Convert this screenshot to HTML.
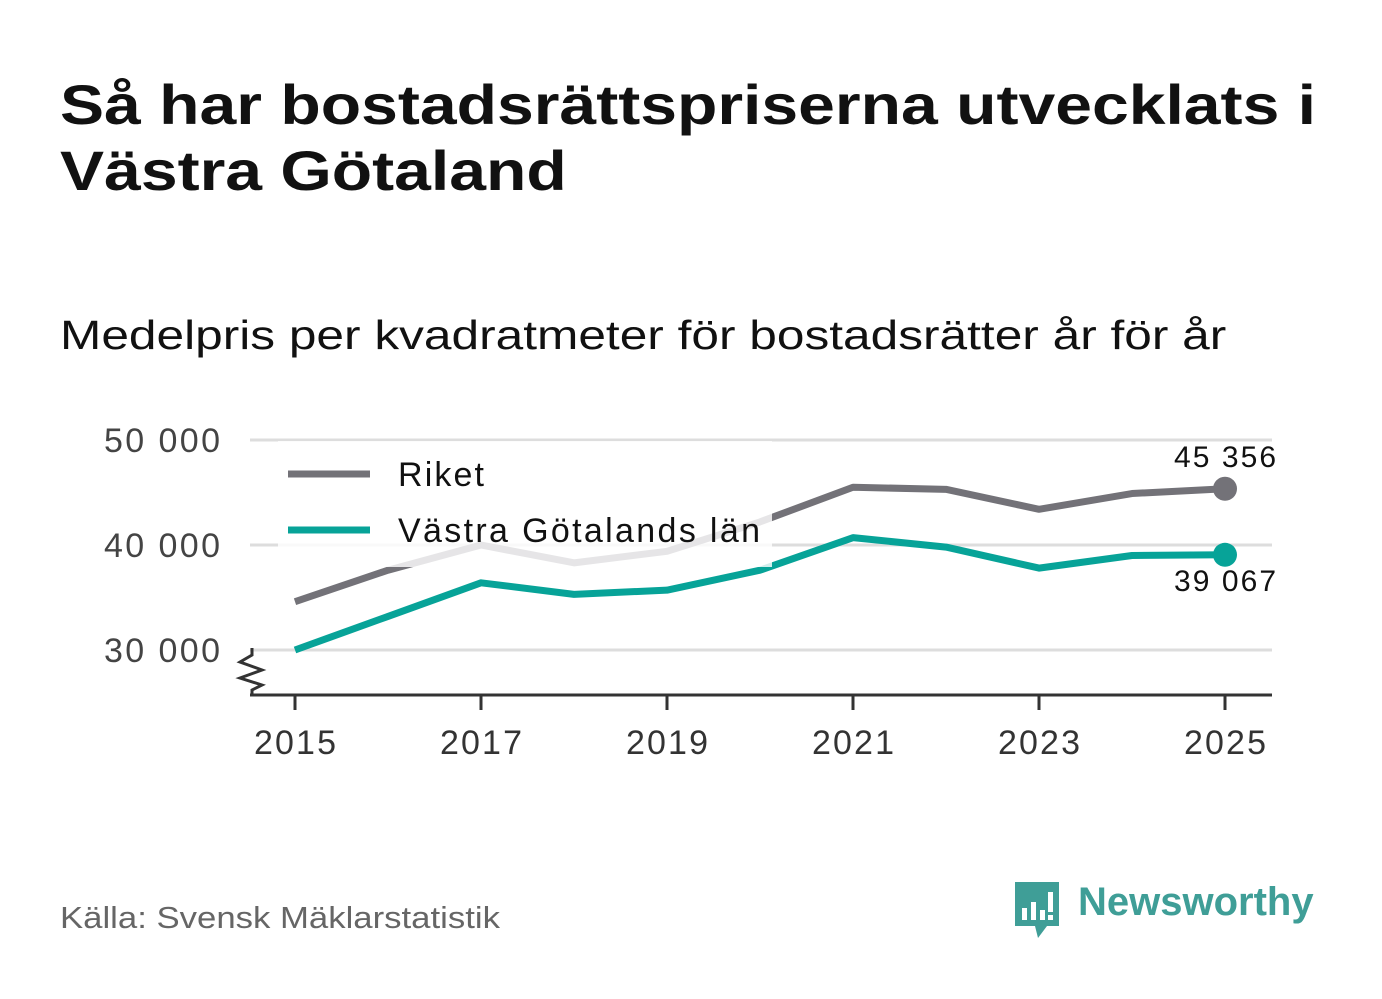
<!DOCTYPE html>
<html><head><meta charset="utf-8"><style>
body{margin:0;width:1382px;height:999px;background:#fff;font-family:"Liberation Sans","DejaVu Sans",sans-serif;position:relative;overflow:hidden}
.t{position:absolute;left:60px;top:72px;font-size:56px;font-weight:bold;color:#111;line-height:66px;transform:scaleX(1.18);transform-origin:left top;white-space:nowrap}
.s{position:absolute;left:60px;top:312px;font-size:41px;color:#111;transform:scaleX(1.21);transform-origin:left top;white-space:nowrap}
.src{position:absolute;left:60px;top:900px;font-size:31px;color:#666;transform:scaleX(1.12);transform-origin:left top;white-space:nowrap}
</style></head><body>
<div class="t">Så har bostadsrättspriserna utvecklats i<br>Västra Götaland</div>
<div class="s">Medelpris per kvadratmeter för bostadsrätter år för år</div>
<div class="src">Källa: Svensk Mäklarstatistik</div>
<svg width="1382" height="999" style="position:absolute;left:0;top:0" id="c" font-family="Liberation Sans, DejaVu Sans, sans-serif"></svg>
<div style="position:absolute;left:1012px;top:880px;width:310px;height:60px">
<svg width="50" height="60" style="position:absolute;left:0;top:0"><path d="M3 2h44v44H35l-9 12-3-12H3z" fill="#3f9e97"/><rect x="10" y="28" width="5" height="12" fill="#fff"/><rect x="19" y="22" width="5" height="18" fill="#fff"/><rect x="28" y="30" width="5" height="10" fill="#fff"/><rect x="36" y="12" width="5" height="20" fill="#fff"/><rect x="36" y="35" width="5" height="5" fill="#fff"/></svg>
<span style="position:absolute;left:66px;top:0;font-size:40px;font-weight:bold;color:#3f9e97">Newsworthy</span></div>
<script>
const years=[2015,2016,2017,2018,2019,2020,2021,2022,2023,2024,2025];
const riket=[34600,37600,40000,38300,39400,42200,45500,45300,43400,44900,45356];
const vg=[30000,33200,36400,35300,35700,37600,40700,39800,37800,39000,39067];
const yTicks=[30000,40000,50000];
const xTicks=[2015,2017,2019,2021,2023,2025];
const NS="http://www.w3.org/2000/svg";const svg=document.getElementById('c');
const X=y=>295+(y-2015)*93, Y=v=>650-(v-30000)*0.0105;
function mk(t,a){const e=document.createElementNS(NS,t);for(const k in a)e.setAttribute(k,a[k]);svg.appendChild(e);return e;}
const fmt=v=>String(v).replace(/\B(?=(\d{3})+(?!\d))/g,' ');
yTicks.forEach(v=>{let g=mk('line',{x1:250,x2:1272,y1:Y(v),y2:Y(v),stroke:'#ddd','stroke-width':3});


let t=mk('text',{x:220,y:Y(v)+12,'text-anchor':'end','font-size':34,fill:'#444',textLength:116});t.textContent=fmt(v);

});
let ax=mk('line',{x1:250,x2:1272,y1:695,y2:695,stroke:'#333','stroke-width':3});


mk('polyline',{points:'252,648 252,655 240,662 262,670 240,678 262,685 252,690 252,695',fill:'none',stroke:'#333','stroke-width':3});
xTicks.forEach(y=>{mk('line',{x1:X(y),x2:X(y),y1:695,y2:710,stroke:'#333','stroke-width':3});
let t=mk('text',{x:X(y),y:754,'text-anchor':'middle','font-size':34,fill:'#333',textLength:82});t.textContent=y;

});
function line(d,c,n){let p=mk('polyline',{points:d.map((v,i)=>X(years[i])+','+Y(v)).join(' '),fill:'none',stroke:c,'stroke-width':7,'stroke-linejoin':'round'});


let l=d.length-1;mk('circle',{cx:X(years[l]),cy:Y(d[l]),r:12,fill:c});}
line(riket,'#737278','riket-line');line(vg,'#07a398','vastra-gotaland-line');
let a=mk('text',{x:1225,y:Y(riket[10])-22,'text-anchor':'middle','font-size':30,fill:'#111',textLength:102});a.textContent=fmt(riket[10]);


let b=mk('text',{x:1225,y:Y(vg[10])+36,'text-anchor':'middle','font-size':30,fill:'#111',textLength:102});b.textContent=fmt(vg[10]);


let lg=mk('rect',{x:278,y:441,width:494,height:126,fill:'#fff','fill-opacity':0.82});


mk('line',{x1:288,x2:370,y1:474,y2:474,stroke:'#737278','stroke-width':7});
mk('line',{x1:288,x2:370,y1:530,y2:530,stroke:'#07a398','stroke-width':7});
let l1=mk('text',{x:398,y:486,'font-size':34,fill:'#111',textLength:86});l1.textContent='Riket';


let l2=mk('text',{x:398,y:542,'font-size':34,fill:'#111',textLength:362});l2.textContent='Västra Götalands län';


</script>
</body></html>
